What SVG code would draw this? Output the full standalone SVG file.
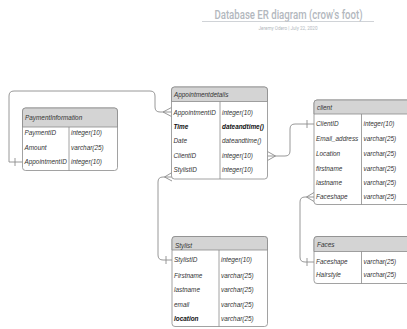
<svg xmlns="http://www.w3.org/2000/svg" width="407" height="329" viewBox="0 0 407 329">
  <style>
    .box { fill: #ffffff; stroke: #8a8a8a; stroke-width: 0.8; }
    .head { fill: #d4d4d4; stroke: #8a8a8a; stroke-width: 0.8; }
    .div { stroke: #8a8a8a; stroke-width: 0.8; }
    .t { font-family: "Liberation Sans", Arial, sans-serif; font-size: 6.4px; font-style: italic; fill: #333333; }
    .b { font-weight: bold; fill: #111111; }
    .h { font-family: "Liberation Sans", Arial, sans-serif; font-size: 6.4px; font-style: italic; fill: #333333; }
    .link { fill: none; stroke: #8c8c8c; stroke-width: 0.9; }
    .title { font-family: Roboto, "Liberation Sans", sans-serif; font-size: 12.5px; font-weight: 500; fill: #b3b8be; }
    .sub { font-family: Roboto, "Liberation Sans", sans-serif; font-size: 4.6px; fill: #b3b8be; }
  </style>

  <!-- title block (narrowed horizontally) -->
  <g id="title">
    <text class="title" transform="translate(288.5,18.5) scale(0.77,1)" text-anchor="middle">Database ER diagram (crow's foot)</text>
    <line x1="202" y1="21.5" x2="374" y2="21.5" stroke="#c4c8cd" stroke-width="0.8"/>
    <text class="sub" x="288" y="30" text-anchor="middle">Jeremy Odero  |  July 22, 2020</text>
  </g>

  <!-- relationship lines -->
  <g id="connectors">
    <!-- PaymentInformation.AppointmentID -> Appointmentdetails.AppointmentID -->
    <path class="link" d="M22.5,162 H9 V96 Q9,91 14,91 H150 Q155,91 155,96 V107 Q155,112 160,112 H171.5"/>
    <line class="link" x1="15" y1="158" x2="15" y2="166"/>
    <path class="link" d="M171.5,107.5 L163,112 L171.5,116.5"/>
    <!-- Appointmentdetails.ClientID -> client.ClientID -->
    <path class="link" d="M267.5,156 H285 Q290,156 290,151 V129 Q290,124 295,124 H314"/>
    <path class="link" d="M267.5,151.5 L275.5,156 L267.5,160.5"/>
    <line class="link" x1="307" y1="120" x2="307" y2="128"/>
    <!-- Stylist.StylistID -> Appointmentdetails.StylistID -->
    <path class="link" d="M172,177 H163 Q158,177 158,182 V255 Q158,260 163,260 H172"/>
    <path class="link" d="M172,172.5 L164.5,177 L172,181"/>
    <line class="link" x1="166" y1="256" x2="166" y2="264"/>
    <!-- client.Faceshape -> Faces.Faceshape -->
    <path class="link" d="M314,197 H305 Q300,197 300,202 V257 Q300,262 305,262 H314"/>
    <path class="link" d="M314,192.5 L306.5,197 L314,201.5"/>
    <line class="link" x1="307" y1="258" x2="307" y2="266"/>
  </g>

  <g id="PaymentInformation">
    <rect class="box" x="22.5" y="108" width="95" height="62.5" rx="3"/>
    <path class="head" d="M22.5,127 V111 Q22.5,108 25.5,108 H114.5 Q117.5,108 117.5,111 V127 Z"/>
    <line class="div" x1="69" y1="127" x2="69" y2="170.5"/>
    <text class="h" x="25" y="119.5">PaymentInformation</text>
    <text class="t" x="24.5" y="135">PaymentID</text>
    <text class="t" x="71" y="135">integer(10)</text>
    <text class="t" x="24.5" y="150">Amount</text>
    <text class="t" x="71" y="150">varchar(25)</text>
    <text class="t" x="24.5" y="164">AppointmentID</text>
    <text class="t" x="71" y="164">integer(10)</text>
  </g>

  <g id="Appointmentdetails">
    <rect class="box" x="171.5" y="87" width="96" height="92" rx="3"/>
    <path class="head" d="M171.5,101.5 V90 Q171.5,87 174.5,87 H264.5 Q267.5,87 267.5,90 V101.5 Z"/>
    <line class="div" x1="220" y1="101.5" x2="220" y2="179"/>
    <text class="h" x="174" y="97">Appointmentdetails</text>
    <text class="t" x="173.5" y="114.6">AppointmentID</text>
    <text class="t" x="222" y="114.6">integer(10)</text>
    <text class="t b" x="173.5" y="129">Time</text>
    <text class="t b" x="222" y="129">dateandtime()</text>
    <text class="t" x="173.5" y="143.3">Date</text>
    <text class="t" x="222" y="143.3">dateandtime()</text>
    <text class="t" x="173.5" y="157.6">ClientID</text>
    <text class="t" x="222" y="157.6">integer(10)</text>
    <text class="t" x="173.5" y="171.6">StylistID</text>
    <text class="t" x="222" y="171.6">integer(10)</text>
  </g>

  <g id="client">
    <rect class="box" x="314" y="100" width="110" height="104.5" rx="3"/>
    <path class="head" d="M314,114 V103 Q314,100 317,100 H421 Q424,100 424,103 V114 Z"/>
    <line class="div" x1="361.5" y1="114" x2="361.5" y2="204.5"/>
    <text class="h" x="317" y="110">client</text>
    <text class="t" x="316" y="125.6">ClientID</text>
    <text class="t" x="363.5" y="125.6">integer(10)</text>
    <text class="t" x="316" y="140.6">Email_address</text>
    <text class="t" x="363.5" y="140.6">varchar(25)</text>
    <text class="t" x="316" y="155.6">Location</text>
    <text class="t" x="363.5" y="155.6">varchar(25)</text>
    <text class="t" x="316" y="170.6">firstname</text>
    <text class="t" x="363.5" y="170.6">varchar(25)</text>
    <text class="t" x="316" y="185">lastname</text>
    <text class="t" x="363.5" y="185">varchar(25)</text>
    <text class="t" x="316" y="199">Faceshape</text>
    <text class="t" x="363.5" y="199">varchar(25)</text>
  </g>

  <g id="Faces">
    <rect class="box" x="314" y="236.5" width="110" height="47" rx="3"/>
    <path class="head" d="M314,251.5 V239.5 Q314,236.5 317,236.5 H421 Q424,236.5 424,239.5 V251.5 Z"/>
    <line class="div" x1="361.5" y1="251.5" x2="361.5" y2="283.5"/>
    <text class="h" x="317" y="246.5">Faces</text>
    <text class="t" x="316" y="264">Faceshape</text>
    <text class="t" x="363.5" y="264">varchar(25)</text>
    <text class="t" x="316" y="277.3">Hairstyle</text>
    <text class="t" x="363.5" y="277.3">varchar(25)</text>
  </g>

  <g id="Stylist">
    <rect class="box" x="172" y="236.5" width="95.5" height="90" rx="3"/>
    <path class="head" d="M172,250 V239.5 Q172,236.5 175,236.5 H264.5 Q267.5,236.5 267.5,239.5 V250 Z"/>
    <line class="div" x1="219" y1="250" x2="219" y2="326.5"/>
    <text class="h" x="175" y="248">Stylist</text>
    <text class="t" x="174" y="262.3">StylistID</text>
    <text class="t" x="221" y="262.3">integer(10)</text>
    <text class="t" x="174" y="278">Firstname</text>
    <text class="t" x="221" y="278">varchar(25)</text>
    <text class="t" x="174" y="291.6">lastname</text>
    <text class="t" x="221" y="291.6">varchar(25)</text>
    <text class="t" x="174" y="306.6">email</text>
    <text class="t" x="221" y="306.6">varchar(25)</text>
    <text class="t b" x="174" y="320.6">location</text>
    <text class="t" x="221" y="320.6">varchar(25)</text>
  </g>
</svg>
